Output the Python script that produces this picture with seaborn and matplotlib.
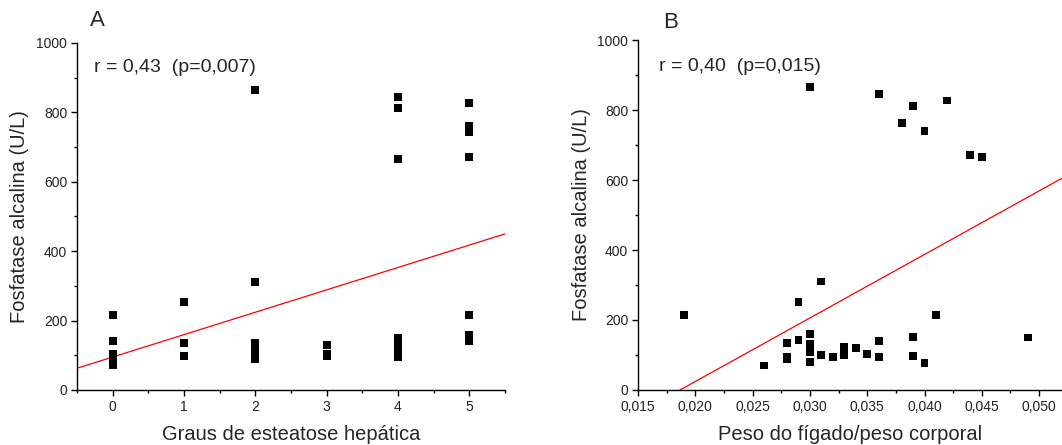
import numpy as np
import pandas as pd
import seaborn as sns
import matplotlib
matplotlib.use("Agg")
import matplotlib.pyplot as plt
from matplotlib.ticker import MultipleLocator, FuncFormatter

# Panel A: steatosis grade vs alkaline phosphatase
grau = [0, 0, 0, 0, 0, 0,
        1, 1, 1,
        2, 2, 2, 2, 2, 2,
        3, 3, 3,
        4, 4, 4, 4, 4, 4, 4, 4,
        5, 5, 5, 5, 5, 5, 5, 5]
fa_a = [215, 140, 105, 95, 85, 72,
        253, 135, 98,
        865, 312, 135, 125, 100, 90,
        130, 103, 97,
        845, 812, 665, 150, 130, 115, 105, 95,
        827, 762, 743, 672, 215, 160, 150, 140]

# Panel B: liver weight / body weight vs alkaline phosphatase
razao = [0.019, 0.030, 0.036, 0.039, 0.042, 0.038, 0.040, 0.044, 0.045,
         0.031, 0.029, 0.041, 0.049, 0.030, 0.030, 0.030, 0.030,
         0.028, 0.028, 0.028, 0.029, 0.026, 0.031, 0.032, 0.033, 0.033,
         0.034, 0.035, 0.036, 0.036, 0.039, 0.039, 0.040]
fa_b = [215, 865, 846, 811, 827, 762, 741, 671, 665,
        310, 252, 215, 150, 159, 131, 108, 81,
        134, 95, 87, 142, 70, 100, 95, 124, 99,
        121, 103, 139, 95, 152, 97, 77]

# Linear fits (slope, intercept)
fit_a = (64.5, 95.0)
fit_b = (18150.0, -338.7)

texto_a = "r = 0,43  (p=0,007)"
texto_b = "r = 0,40  (p=0,015)"

sns.set_theme(style="ticks")
plt.rcParams["font.family"] = ["Liberation Sans", "DejaVu Sans"]

fig = plt.figure(figsize=(10.62, 4.45), dpi=100)
ax_a = fig.add_axes([0.0725, 0.1236, 0.403, 0.780])
ax_b = fig.add_axes([0.6008, 0.1236, 0.3992, 0.7865])

df_a = pd.DataFrame({"grau": grau, "fa": fa_a})
df_b = pd.DataFrame({"razao": razao, "fa": fa_b})

sns.scatterplot(data=df_a, x="grau", y="fa", ax=ax_a, marker="s", s=32,
                color="black", edgecolor="none", zorder=3)
sns.scatterplot(data=df_b, x="razao", y="fa", ax=ax_b, marker="s", s=32,
                color="black", edgecolor="none", zorder=3)

xa = np.array([-0.5, 5.5])
ax_a.plot(xa, fit_a[0] * xa + fit_a[1], color="red", lw=0.9, zorder=2)
xb = np.array([0.015, 0.052])
ax_b.plot(xb, fit_b[0] * xb + fit_b[1], color="red", lw=0.9, zorder=2)

ax_a.set_xlim(-0.5, 5.5)
ax_b.set_xlim(0.015, 0.052)
for ax in (ax_a, ax_b):
    ax.set_ylim(0, 1000)
    ax.yaxis.set_major_locator(MultipleLocator(200))
    ax.yaxis.set_minor_locator(MultipleLocator(100))
    ax.set_ylabel("Fosfatase alcalina (U/L)", fontsize=14.5, labelpad=5)
    ax.tick_params(which="major", direction="out", length=4, width=1,
                   labelsize=10, pad=3, color="black", labelcolor="#222222")
    ax.tick_params(which="minor", direction="out", length=2.5, width=1,
                   color="black")
    for side in ("top", "right"):
        ax.spines[side].set_visible(False)
    for side in ("left", "bottom"):
        ax.spines[side].set_color("black")
        ax.spines[side].set_linewidth(1)

ax_a.xaxis.set_major_locator(MultipleLocator(1))
ax_a.xaxis.set_minor_locator(MultipleLocator(0.5))
ax_b.xaxis.set_major_locator(MultipleLocator(0.005))
ax_b.xaxis.set_minor_locator(MultipleLocator(0.0025))
ax_b.xaxis.set_major_formatter(FuncFormatter(lambda v, p: f"{v:.3f}".replace(".", ",")))

ax_a.set_xlabel("Graus de esteatose hepática", fontsize=14.5, labelpad=8)
ax_b.set_xlabel("Peso do fígado/peso corporal", fontsize=14.5, labelpad=8)

ax_a.text(0.04, 0.93, texto_a, transform=ax_a.transAxes, fontsize=14, va="center")
ax_b.text(0.05, 0.925, texto_b, transform=ax_b.transAxes, fontsize=14, va="center")
fig.text(0.0845, 0.953, "A", fontsize=16, va="center")
fig.text(0.624, 0.950, "B", fontsize=16, va="center")

fig.savefig("out.png", dpi=100)
